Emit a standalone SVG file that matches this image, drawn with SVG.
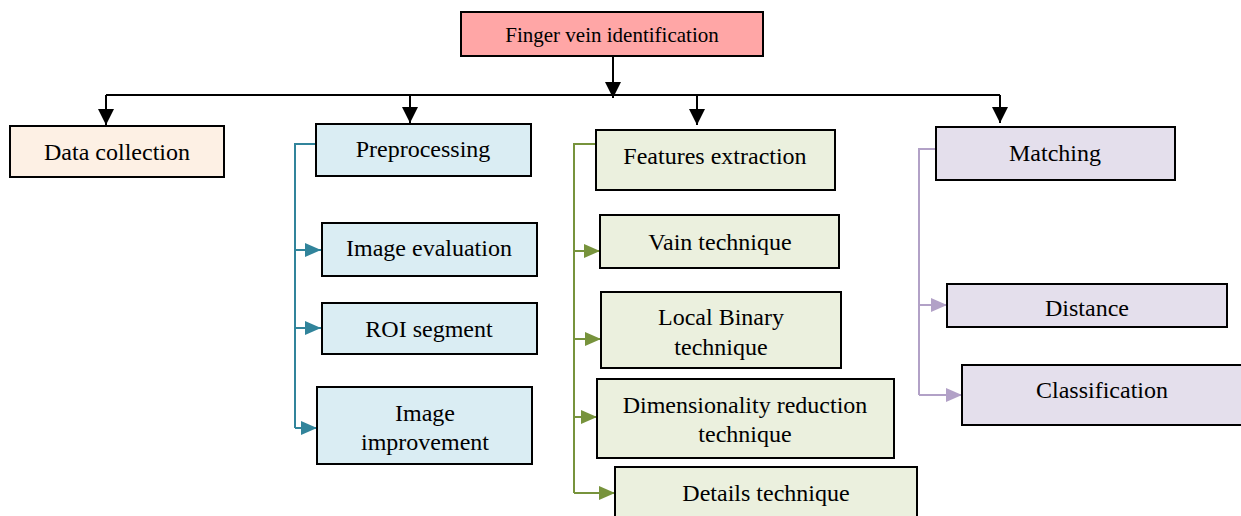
<svg xmlns="http://www.w3.org/2000/svg" width="1241" height="516" viewBox="0 0 1241 516">
<style>
.box{stroke:#000;stroke-width:2}
.t{font-family:"Liberation Serif","Times New Roman",serif;font-size:24px;fill:#000;text-anchor:middle}
.ts{font-size:21px}
.blk{stroke:#000;stroke-width:2;fill:none}
.teal{stroke:#31849B;stroke-width:2;fill:none}
.grn{stroke:#77933C;stroke-width:2;fill:none}
.lav{stroke:#B2A1C7;stroke-width:2;fill:none}
</style>
<defs>
<marker id="ab" viewBox="0 0 16 16" refX="16" refY="8" markerWidth="16" markerHeight="16" markerUnits="userSpaceOnUse" orient="auto"><path d="M0,0 L16,8 L0,16 Z" fill="#000"/></marker>
<marker id="at" viewBox="0 0 16 16" refX="16" refY="8" markerWidth="16" markerHeight="16" markerUnits="userSpaceOnUse" orient="auto"><path d="M0,1 L16,8 L0,15 Z" fill="#31849B"/></marker>
<marker id="ag" viewBox="0 0 16 16" refX="16" refY="8" markerWidth="16" markerHeight="16" markerUnits="userSpaceOnUse" orient="auto"><path d="M0,1 L16,8 L0,15 Z" fill="#77933C"/></marker>
<marker id="al" viewBox="0 0 16 16" refX="16" refY="8" markerWidth="16" markerHeight="16" markerUnits="userSpaceOnUse" orient="auto"><path d="M0,1 L16,8 L0,15 Z" fill="#B2A1C7"/></marker>
</defs>
<g id="connectors">
<path class="blk" d="M613,56 V98" marker-end="url(#ab)"/>
<path class="blk" d="M106,95 H1000"/>
<path class="blk" d="M106,95 V125" marker-end="url(#ab)"/>
<path class="blk" d="M410,95 V123" marker-end="url(#ab)"/>
<path class="blk" d="M697,95 V125" marker-end="url(#ab)"/>
<path class="blk" d="M1000,95 V123" marker-end="url(#ab)"/>
<path class="teal" d="M316,144 H295 V428"/>
<path class="teal" d="M295,250 H321" marker-end="url(#at)"/>
<path class="teal" d="M295,328 H321" marker-end="url(#at)"/>
<path class="teal" d="M295,428 H317" marker-end="url(#at)"/>
<path class="grn" d="M596,144 H574 V493"/>
<path class="grn" d="M574,251 H600" marker-end="url(#ag)"/>
<path class="grn" d="M574,339 H601" marker-end="url(#ag)"/>
<path class="grn" d="M574,417 H597" marker-end="url(#ag)"/>
<path class="grn" d="M574,493 H615" marker-end="url(#ag)"/>
<path class="lav" d="M936,149 H919 V395"/>
<path class="lav" d="M919,305 H947" marker-end="url(#al)"/>
<path class="lav" d="M919,395 H962" marker-end="url(#al)"/>
</g>
<g id="root"><rect class="box" x="461" y="12" width="302" height="44" fill="#FFA6A6"/><text class="t ts" x="612" y="42">Finger vein identification</text></g>
<g id="data"><rect class="box" x="10" y="126" width="214" height="51" fill="#FDF0E4"/><text class="t" x="117" y="160">Data collection</text></g>
<g id="pre"><rect class="box" x="316" y="124" width="215" height="52" fill="#DAEDF3"/><text class="t" x="423" y="157">Preprocessing</text></g>
<g id="eval"><rect class="box" x="322" y="223" width="215" height="53" fill="#DAEDF3"/><text class="t" x="429" y="256">Image evaluation</text></g>
<g id="roi"><rect class="box" x="322" y="303" width="215" height="51" fill="#DAEDF3"/><text class="t" x="429" y="337">ROI segment</text></g>
<g id="impr"><rect class="box" x="317" y="387" width="215" height="77" fill="#DAEDF3"/><text class="t" x="425" y="421">Image</text><text class="t" x="425" y="450">improvement</text></g>
<g id="feat"><rect class="box" x="596" y="130" width="239" height="60" fill="#EBF0DE"/><text class="t" x="715" y="164">Features extraction</text></g>
<g id="vain"><rect class="box" x="600" y="215" width="239" height="53" fill="#EBF0DE"/><text class="t" x="720" y="250">Vain technique</text></g>
<g id="lbp"><rect class="box" x="601" y="292" width="240" height="76" fill="#EBF0DE"/><text class="t" x="721" y="325">Local Binary</text><text class="t" x="721" y="355">technique</text></g>
<g id="dim"><rect class="box" x="597" y="379" width="297" height="79" fill="#EBF0DE"/><text class="t" x="745" y="413">Dimensionality reduction</text><text class="t" x="745" y="442">technique</text></g>
<g id="det"><rect class="box" x="615" y="467" width="302" height="60" fill="#EBF0DE"/><text class="t" x="766" y="501">Details technique</text></g>
<g id="match"><rect class="box" x="936" y="127" width="239" height="53" fill="#E4DFEC"/><text class="t" x="1055" y="161">Matching</text></g>
<g id="dist"><rect class="box" x="947" y="284" width="280" height="43" fill="#E4DFEC"/><text class="t" x="1087" y="316">Distance</text></g>
<g id="cls"><rect class="box" x="962" y="365" width="290" height="60" fill="#E4DFEC"/><text class="t" x="1102" y="398">Classification</text></g>
</svg>
